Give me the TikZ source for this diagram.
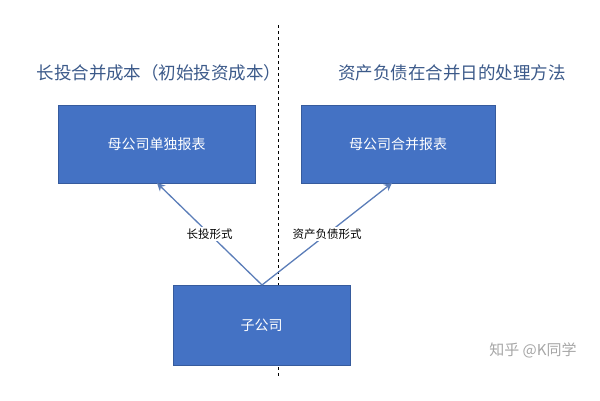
\documentclass[tikz,border=0pt]{standalone}
\usepackage{fontspec}
\newfontfamily\cjk{Noto Sans CJK SC}
\usetikzlibrary{arrows.meta}
\definecolor{boxblue}{HTML}{4472C4}
\definecolor{titleblue}{HTML}{3C5A8A}
\definecolor{arrowc}{HTML}{5B7DB8}
\begin{document}
\begin{tikzpicture}[x=1pt,y=-1pt,
  box/.style={draw=boxblue!80!black,fill=boxblue,text=white,font=\cjk\fontsize{14}{16}\selectfont,inner sep=0},
  ttl/.style={text=titleblue,font=\cjk\fontsize{17.5}{20}\selectfont},
  lbl/.style={fill=white,text=black,font=\cjk\fontsize{11.5}{13}\selectfont,inner sep=1.5pt},
  arr/.style={draw=arrowc,line width=1.3pt,-{Stealth[length=8pt,width=8pt]}}]
\useasboundingbox (0,0) rectangle (600,400);
\coordinate (dt) at (278,25); \coordinate (db) at (278,377);
\draw[dashed,line width=0.8pt] (dt) -- (db);
\node[ttl] (t1) at (159,73) {长投合并成本（初始投资成本）};
\node[ttl] (t2) at (452,73) {资产负债在合并日的处理方法};
\node[box,minimum width=197,minimum height=78] (p) at (156.5,144) {母公司单独报表};
\node[box,minimum width=194,minimum height=78] (c) at (398,144) {母公司合并报表};
\node[box,minimum width=177,minimum height=80] (s) at (261.5,325) {子公司};
\coordinate (o) at (262,285);
\draw[arr] (o) -- (157,183) node[lbl,pos=0.5] (l1) {长投形式};
\draw[arr] (o) -- (392,183) node[lbl,pos=0.5] (l2) {资产负债形式};
\node[text=gray!70,font=\cjk\fontsize{15}{17}\selectfont] (w) at (533,350) {知乎 @K同学};
\end{tikzpicture}
\end{document}
